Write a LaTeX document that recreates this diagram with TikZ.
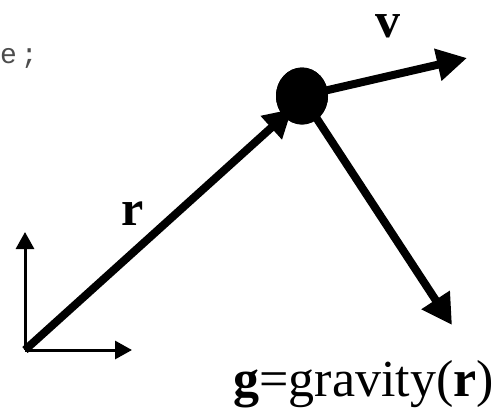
\documentclass[tikz,border=0pt]{standalone}
\usepackage{fontspec}
\setmainfont{Liberation Serif}
\newfontfamily\codefont{Liberation Mono}
\usetikzlibrary{arrows.meta,shapes.geometric}
\begin{document}
\begin{tikzpicture}[x=1pt,y=-1pt,
  thickvec/.style={line width=8pt,-{Triangle[length=30pt,width=31pt]}},
  axisvec/.style={line width=3pt,-{Triangle[length=17pt,width=18pt]}},
  biglabel/.style={inner sep=0pt,anchor=base,font=\fontsize{50}{55}\selectfont},
]
\useasboundingbox (0,0) rectangle (494,407);
\fill[white] (0,0) rectangle (494,407);
% code fragment
\node[inner sep=0pt,anchor=base west,text=black!70] (code) at (0,63)
  {\codefont\fontsize{28}{30}\selectfont e\kern4pt;};
% origin and axes
\coordinate (origin) at (25,350);
\coordinate (ytip) at (25,232);
\coordinate (xtip) at (132,350);
\draw[axisvec] (origin) -- (ytip);
\draw[axisvec] (origin) -- (xtip);
% ball
\node[ellipse,fill=black,inner sep=0pt,minimum width=52pt,minimum height=57pt] (ball) at (302,96) {};
\coordinate (rtip) at (292,109);
\coordinate (vtip) at (467,58);
\coordinate (gtip) at (452,325);
\draw[thickvec,-{Triangle[length=28pt,width=30pt]}] (origin) -- (rtip);
\draw[thickvec] (ball.center) -- (vtip);
\draw[thickvec,-{Triangle[length=30pt,width=32pt]}] (ball.center) -- (gtip);
\node[ellipse,fill=black,inner sep=0pt,minimum width=52pt,minimum height=57pt] at (ball.center) {};
% labels
\node[biglabel,text height=24pt,text depth=0pt] (vlabel) at (387.5,37) {\textbf{v}};
\node[biglabel] (rlabel) at (133,225) {\textbf{r}};
\node[biglabel,anchor=base east,font=\fontsize{52}{56}\selectfont] (glabel) at (494,396)
  {\textbf{g}=gravity(\textbf{r})};
\end{tikzpicture}
\end{document}
